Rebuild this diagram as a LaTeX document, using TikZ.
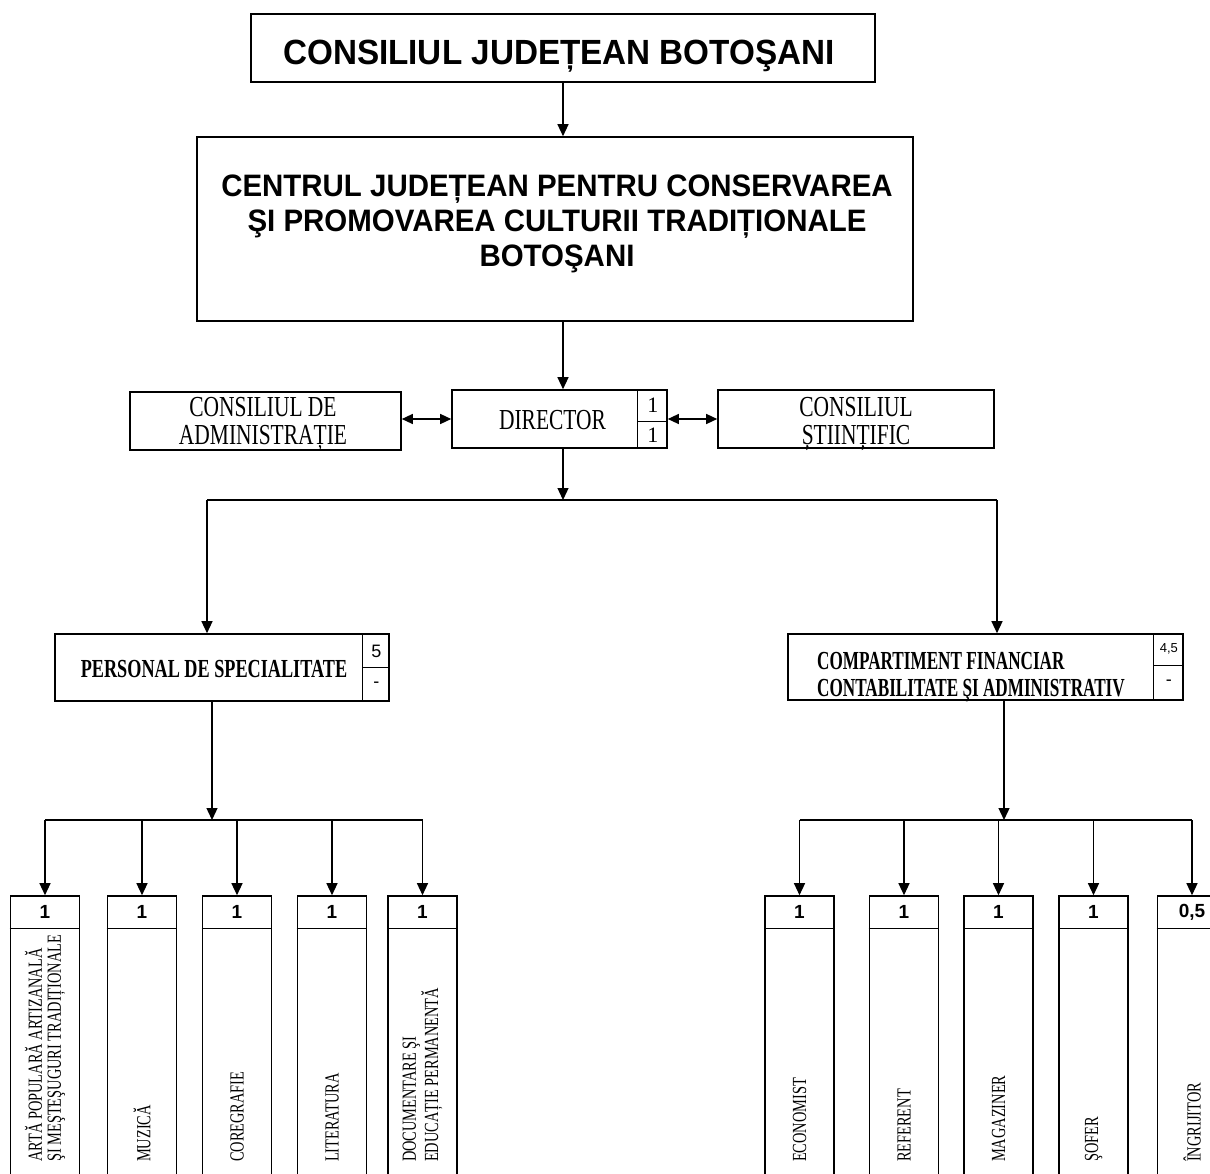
\documentclass[tikz,border=0pt]{standalone}
\usepackage{fontspec}
\setmainfont{Liberation Serif}
\setsansfont{Liberation Sans}
\usetikzlibrary{arrows.meta}

\begin{document}
\begin{tikzpicture}[x=1pt,y=-1pt,%
  box/.style={draw, line width=1.6pt, inner sep=0pt},
  col/.style={box, minimum width=69pt, minimum height=300pt},
  conn/.style={line width=1.3pt},
  cell/.style={line width=1pt},
  arr/.style={conn, -{Triangle[length=12pt,width=11pt]}},
  darr/.style={conn, {Triangle[length=11pt,width=10pt]}-{Triangle[length=11pt,width=10pt]}},
  head/.style={font=\sffamily\bfseries\fontsize{35}{35}\selectfont, xscale=0.95, inner sep=0pt},
  subhead/.style={font=\sffamily\bfseries\fontsize{31}{35}\selectfont, xscale=0.95, inner sep=0pt, align=center},
  txt/.style={font=\fontsize{29}{28}\selectfont, xscale=0.74, inner sep=0pt, align=center},
  btxt/.style={font=\bfseries\fontsize{26}{27.5}\selectfont, inner sep=0pt},
  num/.style={font=\fontsize{22}{22}\selectfont, inner sep=0pt},
  snum/.style={font=\sffamily\fontsize{18}{18}\selectfont, inner sep=0pt},
  cnum/.style={font=\sffamily\bfseries\fontsize{19}{19}\selectfont, inner sep=0pt},
  lbl/.style={rotate=90, anchor=west, align=left, font=\fontsize{20}{19}\selectfont, xscale=0.72, inner sep=0pt}]
  \fill[white] (0,0) rectangle (1210,1174);
  \useasboundingbox (0,0) rectangle (1210,1174);

  % top
  \node[box, minimum width=624pt, minimum height=68pt] (cj) at (563,48) {};
  \node[head, anchor=base] (cjtxt) at (559,65) {CONSILIUL JUDEȚEAN BOTOŞANI};
  \node[box, minimum width=716pt, minimum height=184pt] (centru) at (555,229) {};
  \node[subhead, anchor=north] (centrutxt) at (557,175)
    {CENTRUL JUDEȚEAN PENTRU CONSERVAREA\\ŞI PROMOVAREA CULTURII TRADIȚIONALE\\BOTOŞANI};

  % director row
  \node[box, minimum width=271pt, minimum height=58pt] (adm) at (265.5,421) {};
  \node[txt, anchor=north] (admtxt) at (263,397) {CONSILIUL DE\\ADMINISTRAȚIE};
  \node[box, minimum width=215pt, minimum height=58pt] (dir) at (559.5,419) {};
  \node[txt, anchor=north] (dirtxt) at (552.5,410) {DIRECTOR};
  \draw[cell] ([xshift=-30pt]dir.north east) -- ([xshift=-30pt]dir.south east)
    ([xshift=-30pt,yshift=-2pt]dir.east) -- ([yshift=-2pt]dir.east);
  \node[num] (dirn1) at ([xshift=-15pt,yshift=14pt]dir.east) {1};
  \node[num] (dirn2) at ([xshift=-15pt,yshift=-16pt]dir.east) {1};
  \node[box, minimum width=276pt, minimum height=58pt] (sti) at (856,419) {};
  \node[txt, anchor=north] (stitxt) at (856,397) {CONSILIUL\\ȘTIINȚIFIC};

  \draw[arr] (cj.south) -- (cj.south |- centru.north);
  \draw[arr] (centru.south -| cj.south) -- (dir.north -| cj.south);
  \draw[darr] (dir.west -| adm.east) -- (dir.west);
  \draw[darr] (dir.east) -- (dir.east -| sti.west);

  % second level
  \coordinate (busL) at (207,500);
  \coordinate (busR) at (997,500);
  \draw[arr] (dir.south -| cj.south) -- (busL -| cj.south);
  \draw[conn] (busL) -- (busR);

  \node[box, minimum width=334pt, minimum height=67pt] (pers) at (222,667.5) {};
  \node[btxt, xscale=0.70, anchor=north] (perstxt) at (214,660) {PERSONAL DE SPECIALITATE};
  \draw[cell] ([xshift=-27pt]pers.north east) -- ([xshift=-27pt]pers.south east)
    ([xshift=-27pt]pers.east) -- (pers.east);
  \node[snum] (persn1) at ([xshift=-13.5pt,yshift=16pt]pers.east) {5};
  \node[snum] (persn2) at ([xshift=-13.5pt,yshift=-17pt]pers.east) {-};

  \node[box, minimum width=395pt, minimum height=66pt] (comp) at (985.5,667) {};
  \node[btxt, xscale=0.66, anchor=north west, align=left] (comptxt) at (817,652)
    {COMPARTIMENT FINANCIAR\\CONTABILITATE ŞI ADMINISTRATIV};
  \draw[cell] ([xshift=-30pt]comp.north east) -- ([xshift=-30pt]comp.south east)
    ([xshift=-30pt,yshift=2pt]comp.east) -- ([yshift=2pt]comp.east);
  \node[snum, font=\sffamily\fontsize{13}{13}\selectfont] (compn1) at ([xshift=-15pt,yshift=18pt]comp.east) {4,5};
  \node[snum] (compn2) at ([xshift=-15pt,yshift=-16pt]comp.east) {-};

  \draw[arr] (busL) -- (busL |- pers.north);
  \draw[arr] (busR) -- (busR |- comp.north);

  % bottom columns
  \node[col] (b1) at (45,1046) {};
  \node[col] (b2) at (142,1046) {};
  \node[col] (b3) at (237,1046) {};
  \node[col] (b4) at (332,1046) {};
  \node[col] (b5) at (422.5,1046) {};
  \node[col] (r1) at (799.5,1046) {};
  \node[col] (r2) at (904,1046) {};
  \node[col] (r3) at (998.5,1046) {};
  \node[col] (r4) at (1093.5,1046) {};
  \node[col] (r5) at (1192,1046) {};
  \draw[line width=1.3pt]
    ([yshift=-33pt]b1.north west) -- ([yshift=-33pt]b1.north east)
    ([yshift=-33pt]b2.north west) -- ([yshift=-33pt]b2.north east)
    ([yshift=-33pt]b3.north west) -- ([yshift=-33pt]b3.north east)
    ([yshift=-33pt]b4.north west) -- ([yshift=-33pt]b4.north east)
    ([yshift=-33pt]b5.north west) -- ([yshift=-33pt]b5.north east)
    ([yshift=-33pt]r1.north west) -- ([yshift=-33pt]r1.north east)
    ([yshift=-33pt]r2.north west) -- ([yshift=-33pt]r2.north east)
    ([yshift=-33pt]r3.north west) -- ([yshift=-33pt]r3.north east)
    ([yshift=-33pt]r4.north west) -- ([yshift=-33pt]r4.north east)
    ([yshift=-33pt]r5.north west) -- ([yshift=-33pt]r5.north east);
  \node[cnum] (n1) at ([yshift=-17pt]b1.north) {1};
  \node[cnum] (n2) at ([yshift=-17pt]b2.north) {1};
  \node[cnum] (n3) at ([yshift=-17pt]b3.north) {1};
  \node[cnum] (n4) at ([yshift=-17pt]b4.north) {1};
  \node[cnum] (n5) at ([yshift=-17pt]b5.north) {1};
  \node[cnum] (m1) at ([yshift=-17pt]r1.north) {1};
  \node[cnum] (m2) at ([yshift=-17pt]r2.north) {1};
  \node[cnum] (m3) at ([yshift=-17pt]r3.north) {1};
  \node[cnum] (m4) at ([yshift=-17pt]r4.north) {1};
  \node[cnum] (m5) at ([yshift=-17pt]r5.north) {0,5};

  \coordinate (lblbase) at (0,1162);
  \node[lbl] (l1) at (b1 |- lblbase) {ARTĂ POPULARĂ ARTIZANALĂ\\ŞI MEŞTEŞUGURI TRADIȚIONALE};
  \node[lbl] (l2) at (b2 |- lblbase) {MUZICĂ};
  \node[lbl] (l3) at (b3 |- lblbase) {COREGRAFIE};
  \node[lbl] (l4) at (b4 |- lblbase) {LITERATURA};
  \node[lbl] (l5) at (b5 |- lblbase) {DOCUMENTARE ŞI\\EDUCAȚIE PERMANENTĂ};
  \node[lbl] (k1) at (r1 |- lblbase) {ECONOMIST};
  \node[lbl] (k2) at (r2 |- lblbase) {REFERENT};
  \node[lbl] (k3) at (r3 |- lblbase) {MAGAZINER};
  \node[lbl] (k4) at (r4 |- lblbase) {ŞOFER};
  \node[lbl] (k5) at (r5 |- lblbase) {ÎNGRIJITOR};

  % buses
  \coordinate (lbus) at (212,820);
  \coordinate (rbus) at (1004,820);
  \draw[arr] (pers.south -| lbus) -- (lbus);
  \draw[arr] (comp.south -| rbus) -- (rbus);
  \draw[conn] (b1.north |- lbus) -- (b5.north |- lbus);
  \draw[conn] (r1.north |- rbus) -- (r5.north |- rbus);
  \draw[arr] (b1.north |- lbus) -- (b1.north);
  \draw[arr] (b2.north |- lbus) -- (b2.north);
  \draw[arr] (b3.north |- lbus) -- (b3.north);
  \draw[arr] (b4.north |- lbus) -- (b4.north);
  \draw[arr] (b5.north |- lbus) -- (b5.north);
  \draw[arr] (r1.north |- rbus) -- (r1.north);
  \draw[arr] (r2.north |- rbus) -- (r2.north);
  \draw[arr] (r3.north |- rbus) -- (r3.north);
  \draw[arr] (r4.north |- rbus) -- (r4.north);
  \draw[arr] (r5.north |- rbus) -- (r5.north);
\end{tikzpicture}
\end{document}
